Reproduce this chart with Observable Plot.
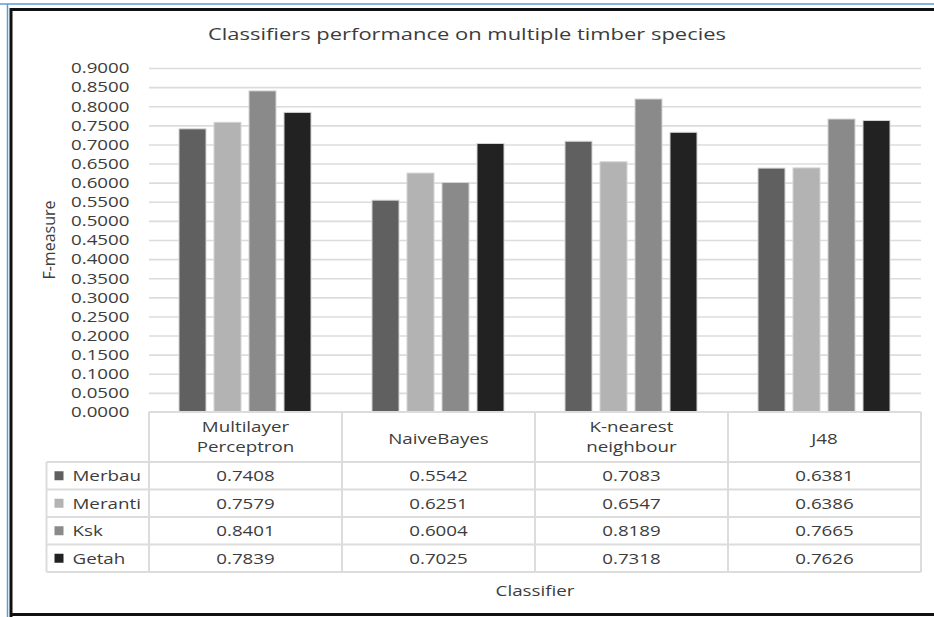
<!DOCTYPE html>
<html><head><meta charset="utf-8">
<script src="https://cdn.jsdelivr.net/npm/d3@7"></script>
<script src="https://cdn.jsdelivr.net/npm/@observablehq/plot@0.6"></script>
<style>
body{margin:0;background:#fff;}
#chart{position:relative;width:934px;height:617px;overflow:hidden;}
</style>
</head><body><div id="chart"></div>
<script>
// ---- data ----
const classifiers = ["Multilayer Perceptron", "NaiveBayes", "K-nearest neighbour", "J48"];
const species = ["Merbau", "Meranti", "Ksk", "Getah"];
const merbau = [0.7408, 0.5542, 0.7083, 0.6381];
const meranti = [0.7579, 0.6251, 0.6547, 0.6386];
const ksk = [0.8401, 0.6004, 0.8189, 0.7665];
const getah = [0.7839, 0.7025, 0.7318, 0.7626];
const speciesColors = ["#606060", "#b3b3b3", "#8a8a8a", "#222222"];
const yTicks = [0, 0.05, 0.1, 0.15, 0.2, 0.25, 0.3, 0.35, 0.4, 0.45, 0.5, 0.55, 0.6, 0.65, 0.7, 0.75, 0.8, 0.85, 0.9];
const titleText = "Classifiers performance on multiple timber species";
const yLabelText = "F-measure";
const xLabelText = "Classifier";

const seriesValues = [merbau, meranti, ksk, getah];
const data = species.flatMap((s, i) => classifiers.map((c, j) => ({species: s, classifier: c, value: seriesValues[i][j]})));

const W = 934, H = 617;
const FONT = "'Open Sans', sans-serif";
const TXT = "#3c3c3c";
const GRID = "#dcdcdc";
const K = 1.25; // horizontal text stretch

const chart = Plot.plot({
  width: W, height: H,
  marginTop: 68, marginBottom: 205, marginLeft: 148, marginRight: 12,
  style: {fontFamily: FONT, fontSize: "15px", color: TXT, background: "transparent", overflow: "visible"},
  fx: {domain: classifiers, padding: 0, axis: null, label: null},
  x: {domain: species, axis: null, paddingInner: 0.216, paddingOuter: 0.865},
  y: {domain: [0, 0.9], ticks: yTicks, tickFormat: d3.format(".4f"), tickSize: 0, tickPadding: 20, label: null},
  color: {domain: species, range: speciesColors},
  marks: [
    Plot.gridY(yTicks.filter(d => d > 0), {stroke: GRID, strokeOpacity: 1, strokeWidth: 1.6}),
    Plot.barY(data, {fx: "classifier", x: "species", y: "value", fill: "species", stroke: "#d4d4d4", strokeWidth: 1})
  ]
});

const root = document.getElementById("chart");
root.appendChild(chart);
const svg = d3.select(chart);

const fx = chart.scale("fx");
const y = chart.scale("y");
const color = chart.scale("color");
const bw = fx.bandwidth;
const x0 = fx.apply(classifiers[0]);
const x1 = fx.apply(classifiers[classifiers.length - 1]) + bw;
const yZero = y.apply(0);
const headerH = 50, rowH = 27.5, legendLeft = 46.5;
const rowTop = yZero + headerH;
const tableBottom = rowTop + rowH * species.length;

const g = svg.append("g").attr("font-family", FONT).attr("fill", TXT);

// table lines
const lines = g.append("g").attr("stroke", GRID).attr("stroke-width", 2);
lines.append("line").attr("x1", x0).attr("x2", x1).attr("y1", yZero).attr("y2", yZero);
for (let i = 0; i <= species.length; i++) {
  lines.append("line").attr("x1", legendLeft).attr("x2", x1).attr("y1", rowTop + i * rowH).attr("y2", rowTop + i * rowH);
}
classifiers.forEach(c => {
  lines.append("line").attr("x1", fx.apply(c)).attr("x2", fx.apply(c)).attr("y1", yZero).attr("y2", tableBottom);
});
lines.append("line").attr("x1", x1).attr("x2", x1).attr("y1", yZero).attr("y2", tableBottom);
lines.append("line").attr("x1", legendLeft).attr("x2", legendLeft).attr("y1", rowTop).attr("y2", tableBottom);

const stretchNodes = [];
function txt(s, x, yy, size, anchor, k = K) {
  const t = g.append("text").attr("x", x).attr("y", yy).attr("font-size", size)
    .attr("text-anchor", anchor).text(s);
  stretchNodes.push([t.node(), k]);
  return t;
}

// header labels
const headerMid = yZero + headerH / 2;
classifiers.forEach(c => {
  const cx = fx.apply(c) + bw / 2;
  const parts = c.split(" ");
  if (parts.length === 1) {
    txt(parts[0], cx, headerMid + 2 + 5.3, 15, "middle");
  } else {
    txt(parts[0], cx, headerMid - 10 + 5.3, 15, "middle");
    txt(parts[1], cx, headerMid + 9.5 + 5.3, 15, "middle");
  }
});

// rows
const fmt = d3.format(".4f");
species.forEach((s, i) => {
  const cy = rowTop + rowH * i + rowH / 2;
  g.append("rect").attr("x", 54.5).attr("y", cy - 4.5).attr("width", 9).attr("height", 9).attr("fill", color.apply(s));
  txt(s, 72.5, cy + 5.3, 15, "start");
  classifiers.forEach((c, j) => {
    txt(fmt(seriesValues[i][j]), fx.apply(c) + bw / 2, cy + 5.3, 15, "middle");
  });
});

// title and axis titles
txt(titleText, W / 2, 40, 17, "middle", 1.29);
txt(xLabelText, (x0 + x1) / 2, 596, 15, "middle");
g.append("text").attr("transform", `translate(55,${(yZero + y.apply(0.9)) / 2}) rotate(-90)`)
  .attr("text-anchor", "middle").attr("font-size", 16).text(yLabelText);

// stretch text horizontally
chart.querySelectorAll('g[aria-label="y-axis tick label"] text').forEach(n => stretchNodes.push([n, K]));
stretchNodes.forEach(([n, k]) => {
  const L = n.getComputedTextLength();
  n.setAttribute("textLength", (L * k).toFixed(1));
  n.setAttribute("lengthAdjust", "spacingAndGlyphs");
});

// outer frame
const frame = svg.append("g").attr("fill", "none");
frame.append("line").attr("x1", 0).attr("x2", W).attr("y1", 4).attr("y2", 4).attr("stroke", "#5b9bd5").attr("stroke-width", 1.5);
frame.append("line").attr("x1", 7.5).attr("x2", 7.5).attr("y1", 4).attr("y2", H).attr("stroke", "#5b9bd5").attr("stroke-width", 1.5);
frame.append("line").attr("x1", 10).attr("x2", W).attr("y1", 9.5).attr("y2", 9.5).attr("stroke", "#111").attr("stroke-width", 3);
frame.append("line").attr("x1", 11).attr("x2", 11).attr("y1", 8).attr("y2", H).attr("stroke", "#111").attr("stroke-width", 3);
frame.append("line").attr("x1", 10).attr("x2", W).attr("y1", 614.5).attr("y2", 614.5).attr("stroke", "#111").attr("stroke-width", 3);
</script>
</body></html>
